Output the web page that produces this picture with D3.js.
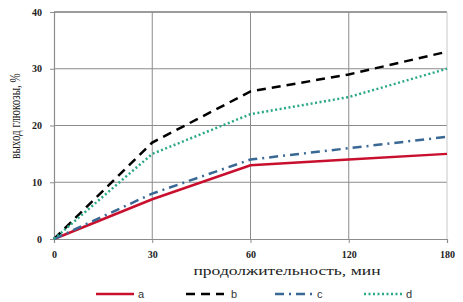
<!DOCTYPE html>
<html>
<head>
<meta charset="utf-8">
<script src="https://cdn.jsdelivr.net/npm/d3@7"></script>
<style>
  body { margin: 0; background: #fff; }
  svg { display: block; }
  .serif { font-family: "Liberation Serif", Tinos, "Times New Roman", Times, "DejaVu Serif", serif; }
</style>
</head>
<body>
<div class="box"></div>
<script>
// Data
const categories = ["0", "30", "60", "120", "180"];
const seriesA = [0, 7, 13, 14, 15];
const seriesB = [0, 17, 26, 29, 33];
const seriesC = [0, 8, 14, 16, 18];
const seriesD = [0, 15, 22, 25, 30];
const seriesNames = ["a", "b", "c", "d"];
const yTicks = [0, 10, 20, 30, 40];

const w = 463;
const h = 302;
// Plot area edges
const plotL = 54, plotR = 447, plotT = 12, plotB = 239;

const svg = d3.select(".box")
    .append("svg")
    .attr("width", w)
    .attr("height", h);

// Categorical x (evenly spaced), linear y
const xScale = d3.scalePoint()
    .domain(categories)
    .range([plotL, plotR]);

const yScale = d3.scaleLinear()
    .domain([0, 40])
    .range([plotB, plotT]);

// Horizontal gridlines
svg.append("g")
    .selectAll("line")
    .data(yTicks.slice(1))
    .enter()
    .append("line")
    .attr("x1", plotL)
    .attr("x2", plotR)
    .attr("y1", d => yScale(d))
    .attr("y2", d => yScale(d))
    .style("stroke", d => d == 40 ? "#7a7a7a" : "#8c8c8c")
    .style("stroke-width", d => d == 40 ? 1.5 : 1);

// Vertical gridlines
svg.append("g")
    .selectAll("line")
    .data(categories.slice(1))
    .enter()
    .append("line")
    .attr("x1", d => xScale(d))
    .attr("x2", d => xScale(d))
    .attr("y1", plotT)
    .attr("y2", plotB)
    .style("stroke", d => d == "180" ? "#c8c8c8" : "#8c8c8c")
    .style("stroke-width", 1);

// Axes
const xAxis = d3.axisBottom(xScale).tickSize(4).tickPadding(8);
const yAxis = d3.axisLeft(yScale).tickValues(yTicks).tickSize(4).tickPadding(8);

const gx = svg.append("g")
    .attr("transform", "translate(0," + plotB + ")")
    .call(xAxis);
const gy = svg.append("g")
    .attr("transform", "translate(" + plotL + ",0)")
    .call(yAxis);

[gx, gy].forEach(g => {
    g.attr("font-family", null).attr("font-size", null);
    g.select(".domain").style("stroke", "#8c8c8c").style("stroke-width", 1.2);
    g.selectAll(".tick line").style("stroke", "#8c8c8c");
    g.selectAll("text")
        .attr("class", "serif")
        .style("font-size", "10px")
        .style("font-weight", "bold")
        .style("fill", "#222");
});

// Series lines
const styles = [
    { data: seriesA, color: "#c8102e", dash: null },
    { data: seriesB, color: "#000000", dash: "9,6" },
    { data: seriesC, color: "#3a6894", dash: "9,5,2,5" },
    { data: seriesD, color: "#2aa886", dash: "2,2.5" }
];

const line = d3.line()
    .x((d, i) => xScale(categories[i]))
    .y(d => yScale(d));

svg.append("g")
    .selectAll("path")
    .data(styles)
    .enter()
    .append("path")
    .attr("d", d => line(d.data))
    .style("fill", "none")
    .style("stroke", d => d.color)
    .style("stroke-width", 2.5)
    .style("stroke-dasharray", d => d.dash);

// Axis titles (the source picture is stretched sideways)
svg.append("text")
    .attr("class", "serif")
    .attr("transform", "translate(287,275) scale(1.35,1)")
    .attr("text-anchor", "middle")
    .style("font-size", "13px")
    .style("fill", "#222")
    .text("продолжительность, мин");

svg.append("text")
    .attr("class", "serif")
    .attr("transform", "translate(20,116) scale(1.35,1) rotate(-90)")
    .attr("text-anchor", "middle")
    .style("font-size", "11px")
    .style("fill", "#222")
    .text("выход глюкозы, %");

// Legend
const legendX = [96, 186, 275, 364];
const legend = svg.append("g")
    .selectAll("g")
    .data(styles)
    .enter()
    .append("g")
    .attr("transform", (d, i) => "translate(" + legendX[i] + ",294)");

legend.append("line")
    .attr("x1", 0)
    .attr("x2", 38)
    .attr("y1", 0)
    .attr("y2", 0)
    .style("stroke", d => d.color)
    .style("stroke-width", 2.5)
    .style("stroke-dasharray", d => d.dash);

legend.append("text")
    .attr("x", (d, i) => i == 1 ? 45 : 42)
    .attr("y", 4)
    .style("font-family", "Liberation Sans")
    .style("font-size", "11px")
    .style("fill", "#333")
    .text((d, i) => seriesNames[i]);
</script>
</body>
</html>
